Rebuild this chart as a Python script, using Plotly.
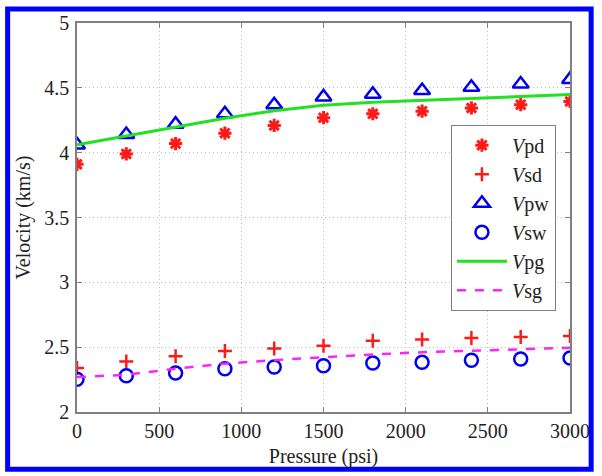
import plotly.graph_objects as go

pressure = [0, 300, 600, 900, 1200, 1500, 1800, 2100, 2400, 2700, 3000]
vpd = [3.91, 3.99, 4.07, 4.15, 4.21, 4.27, 4.30, 4.32, 4.345, 4.37, 4.395]
vsd = [2.34, 2.39, 2.43, 2.47, 2.49, 2.51, 2.55, 2.56, 2.57, 2.578, 2.586]
vpw = [4.06, 4.14, 4.22, 4.30, 4.37, 4.43, 4.45, 4.48, 4.505, 4.53, 4.565]
vsw = [2.253, 2.279, 2.30, 2.334, 2.347, 2.357, 2.378, 2.383, 2.399, 2.409, 2.417]
vpg = [4.06, 4.13, 4.196, 4.266, 4.323, 4.365, 4.388, 4.404, 4.417, 4.432, 4.448]
vsg = [2.269, 2.287, 2.334, 2.373, 2.40, 2.423, 2.443, 2.461, 2.474, 2.484, 2.495]

x_ticks = [0, 500, 1000, 1500, 2000, 2500, 3000]
y_ticks = [2, 2.5, 3, 3.5, 4, 4.5, 5]
y_ticklabels = ["2", "2.5", "3", "3.5", "4", "4.5", "5"]

RED = "#ff1a1a"
BLUE = "#0000ee"
FONT = "Liberation Serif"

fig = go.Figure()
fig.add_trace(go.Scatter(x=pressure, y=vpd, mode="markers", name="<i>V</i>pd",
                         marker=dict(symbol="asterisk-open", size=11, color=RED,
                                     line=dict(color=RED, width=3))))
fig.add_trace(go.Scatter(x=pressure, y=vsd, mode="markers", name="<i>V</i>sd",
                         marker=dict(symbol="cross-thin-open", size=10, color=RED,
                                     line=dict(color=RED, width=2.5))))
fig.add_trace(go.Scatter(x=pressure, y=vpw, mode="markers", name="<i>V</i>pw",
                         marker=dict(symbol="triangle-up-open", size=14, color=BLUE,
                                     line=dict(color=BLUE, width=2.5))))
fig.add_trace(go.Scatter(x=pressure, y=vsw, mode="markers", name="<i>V</i>sw",
                         marker=dict(symbol="circle-open", size=13, color=BLUE,
                                     line=dict(color=BLUE, width=2.5))))
fig.add_trace(go.Scatter(x=pressure, y=vpg, mode="lines", name="<i>V</i>pg",
                         line=dict(color="#22e022", width=3)))
fig.add_trace(go.Scatter(x=pressure, y=vsg, mode="lines", name="<i>V</i>sg",
                         line=dict(color="#ff22ff", width=2.5, dash="dash")))

W, H = 602, 476
ml, mr, mt, mb = 77, 24, 20, 62
pw, ph = W - ml - mr, H - mt - mb

def px(x):
    return (x - ml) / pw

def py(y):
    return (H - mb - y) / ph

axis_common = dict(
    showline=True, linecolor="#808080", linewidth=1.5, mirror="ticks",
    ticks="inside", ticklen=5, tickcolor="#808080", tickwidth=1,
    showgrid=True, gridcolor="#bdbdbd", griddash="1px,3px", gridwidth=1,
    zeroline=False,
    tickfont=dict(family=FONT, size=20, color="#222222"),
)

fig.update_layout(
    width=W, height=H,
    margin=dict(l=ml, r=mr, t=mt, b=mb),
    paper_bgcolor="white", plot_bgcolor="white",
    font=dict(family=FONT, color="#222222"),
    xaxis=dict(range=[0, 3000], tickvals=x_ticks, ticklabelstandoff=0,
               title=dict(text="Pressure (psi)", font=dict(family=FONT, size=20), standoff=8),
               **axis_common),
    yaxis=dict(range=[2, 5], tickvals=y_ticks, ticktext=y_ticklabels, ticklabelstandoff=2,
               title=dict(text="Velocity (km/s)", font=dict(family=FONT, size=20), standoff=8),
               **axis_common),
    legend=dict(x=px(457), y=py(123), xanchor="left", yanchor="top",
                bgcolor="white", bordercolor="#808080", borderwidth=1,
                font=dict(family=FONT, size=20, color="#222222"),
                itemwidth=50, tracegroupgap=0),
    showlegend=True,
    shapes=[dict(type="rect", xref="paper", yref="paper",
                 x0=px(6.5), x1=px(599.5), y0=py(472), y1=py(5.8),
                 line=dict(color="#0000ff", width=5), layer="above")],
)

fig.write_html("out.html")
